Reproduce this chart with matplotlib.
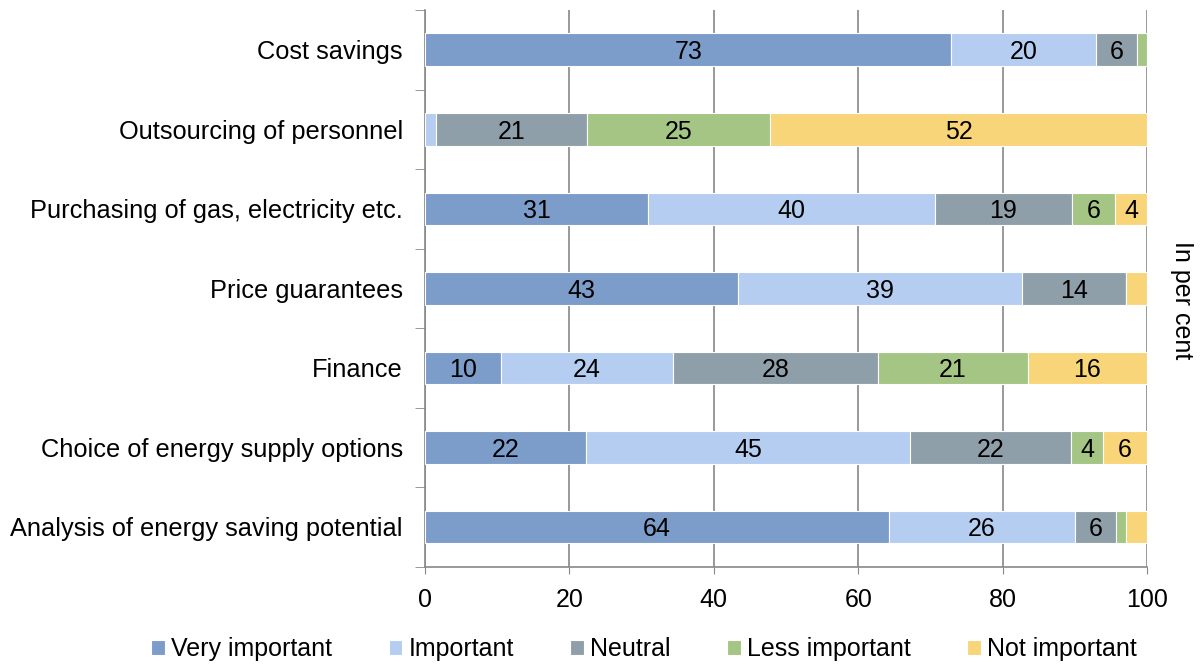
import numpy as np
import matplotlib
matplotlib.use('Agg')
import matplotlib.pyplot as plt

plt.rcParams["font.family"] = ["Liberation Sans", "DejaVu Sans"]

categories = ['Cost savings', 'Outsourcing of personnel', 'Purchasing of gas, electricity etc.',
              'Price guarantees', 'Finance', 'Choice of energy supply options',
              'Analysis of energy saving potential']
series = ['Very important', 'Important', 'Neutral', 'Less important', 'Not important']
colors = ['#7c9cc9', '#b4cdf0', '#8f9fa9', '#a4c583', '#f9d57a']

very_important = [72.9, 0.0, 30.9, 43.4, 10.5, 22.3, 64.3]
important = [20.0, 1.5, 39.7, 39.3, 23.8, 44.9, 25.7]
neutral = [5.7, 20.9, 19.0, 14.4, 28.4, 22.3, 5.7]
less_important = [1.4, 25.4, 6.0, 0.0, 20.8, 4.4, 1.4]
not_important = [0.0, 52.2, 4.4, 2.9, 16.5, 6.1, 2.9]
values = [very_important, important, neutral, less_important, not_important]

fig = plt.figure(figsize=(12.04, 6.66), dpi=100)
ax = fig.add_axes([0.353, 0.149, 0.5997, 0.836])

y = np.arange(len(categories))[::-1]
left = np.zeros(len(categories))
for name, vals, c in zip(series, values, colors):
    vals = np.array(vals)
    ax.barh(y, vals, left=left, height=0.41, color=c, edgecolor='white', linewidth=0.8, label=name, zorder=3)
    for yi, l, v in zip(y, left, vals):
        if v >= 3.5:
            ax.text(l + v / 2, yi, f'{v:.0f}', ha='center', va='center_baseline', fontsize=18, zorder=4)
    left += vals

ax.set_xlim(0, 100)
ax.set_ylim(-0.5, len(categories) - 0.5)
ax.set_xticks(np.arange(0, 101, 20))
ax.tick_params(axis='x', labelsize=18, length=5, color='#888888', pad=10)
ax.set_yticks(y)
ax.set_yticklabels(categories, fontsize=18.3)
ax.set_yticks(np.arange(-0.5, len(categories), 1), minor=True)
ax.tick_params(axis='y', which='major', length=0, pad=16)
ax.tick_params(axis='y', which='minor', length=7, color='#888888')
ax.grid(axis='x', color='#888888', linewidth=1.2, zorder=0)
for s in ['top', 'right']:
    ax.spines[s].set_visible(False)
for s in ['left', 'bottom']:
    ax.spines[s].set_color('#888888')
    ax.spines[s].set_linewidth(1.2)

fig.text(0.982, 0.549, 'In per cent', rotation=-90, ha='center', va='center', fontsize=18)

ax.legend(loc='center', bbox_to_anchor=(0.535, 0.025), bbox_transform=fig.transFigure, ncol=5,
          frameon=False, fontsize=18, handlelength=0.55, handleheight=0.55, handletextpad=0.25,
          columnspacing=2.25)

plt.savefig('out.png', dpi=100)
